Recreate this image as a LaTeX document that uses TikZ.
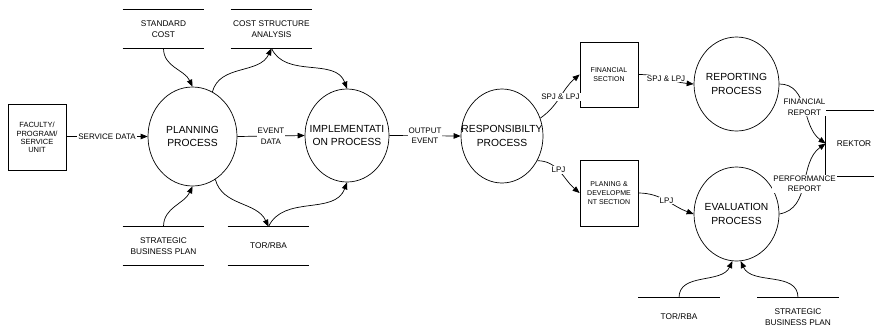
\documentclass[tikz,border=0pt]{standalone}
\usepackage{fontspec}
\setmainfont{Liberation Sans}
\usetikzlibrary{shapes.geometric,arrows.meta}
\begin{document}
\begin{tikzpicture}[x=1pt,y=1pt,
  line width=0.7pt,
  proc/.style={draw, ellipse, inner sep=0pt, minimum width=85pt, minimum height=94pt},
  ptext/.style={inner sep=0pt, align=center, font=\fontsize{10.3}{13.3}\selectfont},
  ent/.style={draw, rectangle, inner sep=0pt, minimum width=58pt, minimum height=66pt, align=center},
  store/.style={inner sep=0pt, minimum width=81pt, minimum height=38pt, align=center, font=\fontsize{8.3}{10.7}\selectfont},
  flow/.style={-{Triangle[length=7pt,width=5.5pt]}},
  lbl/.style={fill=white, inner sep=1pt, align=center, font=\fontsize{8}{10.5}\selectfont}
]
\useasboundingbox (0,0) rectangle (874,-330);

% external entities
\node[ent, font=\fontsize{7.5}{8.3}\selectfont] (fac) at (37,-137.5) {FACULTY/\\PROGRAM/\\SERVICE\\UNIT};
\node[ent, minimum height=65pt, font=\fontsize{7}{9.2}\selectfont] (fin) at (609,-74.5) {FINANCIAL\\SECTION};
\node[ent, font=\fontsize{7}{9.2}\selectfont] (pd) at (609,-193) {PLANING \&\\DEVELOPME\\NT SECTION};
\node[inner sep=0pt, minimum width=56pt, minimum height=65pt, font=\fontsize{8.3}{10}\selectfont] (rek) at (854,-143.5) {REKTOR};
\draw (rek.north east) -- (rek.north west) -- (rek.south west) -- (rek.south east);

% processes
\node[proc, minimum width=89pt, minimum height=99pt] (plan) at (192.5,-136.5) {};
\node[ptext] (plant) at (plan) {PLANNING\\PROCESS};
\node[proc, minimum width=84pt, minimum height=93pt] (impl) at (347,-135.5) {};
\node[ptext] (implt) at (impl) {IMPLEMENTATI\\ON PROCESS};
\node[proc, minimum width=82pt, minimum height=94pt] (resp) at (502,-136) {};
\node[ptext] (respt) at (resp) {RESPONSIBILTY\\PROCESS};
\node[proc] (rep) at (736.5,-84) {};
\node[ptext] (rept) at (rep) {REPORTING\\PROCESS};
\node[proc] (eval) at (736.5,-214) {};
\node[ptext] (evalt) at (eval) {EVALUATION\\PROCESS};

% data stores
\node[store] (sc) at (163.5,-29) {STANDARD\\COST};
\node[store] (csa) at (271.5,-29) {COST STRUCTURE\\ANALYSIS};
\node[store] (sbp) at (163.5,-246) {STRATEGIC\\BUSINESS PLAN};
\node[store] (tor) at (268.5,-246) {TOR/RBA};
\node[store] (tor2) at (679,-317) {TOR/RBA};
\node[store] (sbp2) at (798,-317) {STRATEGIC\\BUSINESS PLAN};
\foreach \s in {sc,csa,sbp,tor}{
  \draw (\s.north west) -- (\s.north east) (\s.south west) -- (\s.south east);
}
\foreach \s in {tor2,sbp2}{
  \draw (\s.north west) -- (\s.north east);
}

% straight flows
\draw[flow] (fac.east |- plan.west) -- node[lbl]{SERVICE DATA} (plan.west);
\draw[flow] (plan.east) -- node[lbl]{EVENT\\DATA} (impl.west);
\draw[flow] (impl.east) -- node[lbl]{OUTPUT\\EVENT} (resp.west);

% curved flows, left part
\draw[flow] (sc.south) to[out=-90,in=115] (plan.north);
\draw[flow] (plan.66) to[out=75,in=-115] (csa.south);
\draw[flow] (csa.south) to[out=-65,in=110] (impl.north);
\draw[flow] (sbp.north) to[out=90,in=-115] (plan.south);
\draw[flow] (plan.-62) to[out=-75,in=115] (tor.north);
\draw[flow] (tor.north) to[out=65,in=-110] (impl.south);

% right part
\draw[flow] (resp.25) to[out=35,in=-140] node[lbl, pos=0.5]{SPJ \& LPJ} (fin.west);
\draw[flow] (resp.-35) to[out=0,in=140] node[lbl, pos=0.45]{LPJ} (pd.west);
\draw[flow] (fin.east) to[out=0,in=175] node[lbl]{SPJ \& LPJ} (rep.west);
\draw[flow] (pd.east) to[out=0,in=160] node[lbl]{LPJ} (eval.west);
\draw[flow] (rep.east) to[out=0,in=145] node[lbl]{FINANCIAL\\REPORT} (rek.west);
\draw[flow] (eval.east) to[out=10,in=-145] node[lbl]{PERFORMANCE\\REPORT} (rek.west);
\draw[flow] (tor2.north) to[out=90,in=-115] (eval.265);
\draw[flow] (sbp2.north) to[out=90,in=-65] (eval.275);
\end{tikzpicture}
\end{document}
